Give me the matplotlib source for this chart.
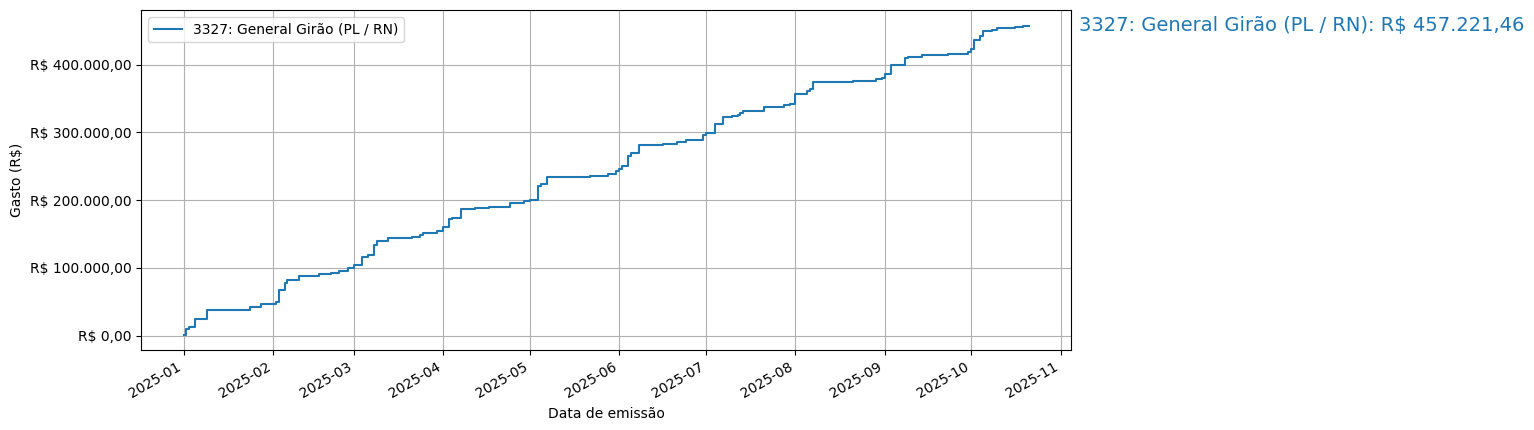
import matplotlib
matplotlib.use("Agg")
import matplotlib.pyplot as plt
import matplotlib.dates as mdates
import matplotlib.transforms as mtransforms
from matplotlib.ticker import FuncFormatter
import pandas as pd

# Datas das notas (inicio de cada degrau)
datas = [
    "2025-01-01", "2025-01-02", "2025-01-03", "2025-01-05", "2025-01-09", "2025-01-24",
    "2025-01-28", "2025-02-02", "2025-02-03", "2025-02-05", "2025-02-06", "2025-02-10",
    "2025-02-17", "2025-02-21", "2025-02-24", "2025-02-27", "2025-03-01", "2025-03-04",
    "2025-03-06", "2025-03-08", "2025-03-09", "2025-03-13", "2025-03-21", "2025-03-24",
    "2025-03-25", "2025-03-30", "2025-04-01", "2025-04-03", "2025-04-04", "2025-04-07",
    "2025-04-12", "2025-04-17", "2025-04-24", "2025-04-29", "2025-05-01", "2025-05-04",
    "2025-05-05", "2025-05-07", "2025-05-22", "2025-05-28", "2025-05-31", "2025-06-01",
    "2025-06-02", "2025-06-04", "2025-06-05", "2025-06-08", "2025-06-16", "2025-06-21",
    "2025-06-24", "2025-06-30", "2025-07-01", "2025-07-04", "2025-07-07", "2025-07-10",
    "2025-07-12", "2025-07-13", "2025-07-14", "2025-07-21", "2025-07-28", "2025-07-30",
    "2025-08-01", "2025-08-05", "2025-08-06", "2025-08-07", "2025-08-21", "2025-08-29",
    "2025-08-31", "2025-09-01", "2025-09-03", "2025-09-08", "2025-09-09", "2025-09-14",
    "2025-09-23", "2025-09-30", "2025-10-01", "2025-10-02", "2025-10-04", "2025-10-05",
    "2025-10-08", "2025-10-10", "2025-10-16", "2025-10-19", "2025-10-21",
]

# Gasto acumulado (R$)
acumulado = [
    1000, 10300, 12600, 24000, 37200, 42000,
    46000, 49400, 66600, 77400, 81300, 87200,
    91200, 93000, 96000, 100000, 103400, 116600,
    119600, 133200, 139200, 144100, 146000, 149000,
    151500, 153800, 159500, 171600, 173000, 187300,
    188700, 190200, 195600, 198000, 199500, 220600,
    224000, 233800, 235300, 238700, 242600, 246000,
    250500, 264700, 269600, 281900, 282800, 285300,
    288200, 295600, 299000, 312700, 322000, 323500,
    326000, 328400, 331900, 336600, 340000, 341500,
    356100, 361000, 363400, 374100, 375600, 378000,
    379500, 386300, 399500, 409300, 410700, 413700,
    415600, 419000, 422900, 436100, 442400, 448800,
    451200, 453700, 455600, 457221.46, 457221.46,
]

rotulo = "3327: General Girão (PL / RN)"
total = 457221.46


def reais(v, pos=None):
    s = f"{v:,.2f}".replace(",", "X").replace(".", ",").replace("X", ".")
    return "R$ " + s


x = pd.to_datetime(datas)

fig, ax = plt.subplots(figsize=(15.34, 4.3), dpi=100)
ax.step(x, acumulado, where="post", label=rotulo)
ax.yaxis.set_major_formatter(FuncFormatter(reais))
ax.xaxis.set_major_locator(mdates.MonthLocator())
ax.xaxis.set_major_formatter(mdates.DateFormatter("%Y-%m"))
ax.set_xlabel("Data de emissão")
ax.set_ylabel("Gasto (R$)")
ax.grid(True)
ax.legend(loc="upper left")
fig.autofmt_xdate()

trans = mtransforms.blended_transform_factory(ax.transAxes, ax.transData)
ax.text(1.008, total, f"{rotulo}: {reais(total)}", transform=trans,
        color="tab:blue", fontsize=14, va="center", ha="left")

fig.subplots_adjust(left=0.0921, right=0.6984, top=0.976, bottom=0.1853)
fig.savefig("out.png")
